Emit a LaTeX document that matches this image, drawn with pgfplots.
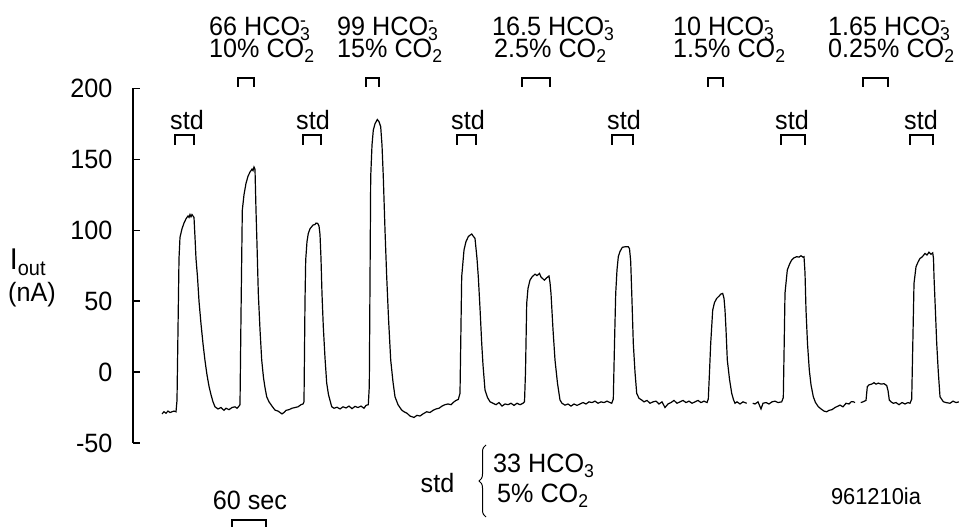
\documentclass[border=0pt]{standalone}
\usepackage{pgfplots}
\pgfplotsset{compat=1.18}
\usepackage{fontspec}
\setmainfont{Liberation Sans}[FakeStretch=0.95]
\usetikzlibrary{decorations.pathreplacing}
\newcommand{\bigf}{\fontsize{26.5}{31}\selectfont}
\newcommand{\hco}{HCO\rlap{\textsuperscript{-}}\textsubscript{3}}
\begin{document}
\begin{tikzpicture}
\useasboundingbox (0pt,0pt) rectangle (959pt,527pt);
\begin{axis}[
  at={(133pt,84pt)}, anchor=south west,
  scale only axis, width=826pt, height=354.7pt,
  xmin=133, xmax=959, ymin=-50, ymax=200,
  axis x line=none, axis y line*=left,
  y axis line style={line width=1.3pt},
  ytick={-50,0,50,100,150,200},
  tick align=inside, major tick length=7pt,
  every tick/.style={black, line width=1.3pt},
  /pgf/number format/assume math mode=true,
  yticklabel style={font=\bigf, xshift=-17pt},
  clip=false,
]
\addplot[black, line width=1.2pt] coordinates {
(162,-29.5)(164,-28)(166,-29)(168,-27.5)(170,-28.5)(172,-28)(174,-27.5)(176,-28)
(177,-20)(178,30)(179,80)(180,95)(182,101)(184,105)(186,108)(188,110)(189,109)(190,111)(191,109.5)(192,111)(193,110)(194,109)
(195,95)(196,80)(197.5,67)(199,50)(201,34)(203,20)(205,8)(207,-2)(209,-10)(211,-16)(213,-21)(215,-24.5)(218,-26)
(221,-25)(224,-27)(226,-25.5)(229,-26.5)(232,-25)(235,-24.5)(237,-25.5)(239,-24)(240,-23)
(241,40)(242.3,114)(244,125)(246,133)(248,138)(250,141)(252,143)(253,142)(254,144.5)(255,143)
(256,114)(257,90)(258.3,55.6)(260,30)(261.7,8.5)(263.5,-4)(265,-11)(266.7,-17.4)(269,-21)(272,-24)(275,-26.8)
(278,-27.5)(280,-28.5)(282,-29.5)(284,-28.5)(286,-27)(289,-26.5)(292,-25.5)(295,-25)(298,-24.5)(301,-23)(303,-22.5)(304,-21)
(305,50)(305.7,79)(307,92)(308.3,97.7)(310,101)(313,103.6)(315,104)(316,105)(317.7,104.8)(319,103)
(320,97)(321,80)(322,55)(323.3,32)(325,10)(326.7,-7.8)(328.5,-16)(331.7,-24.4)
(334,-25.5)(337,-24.8)(340,-26)(343,-24.5)(346,-25.3)(349,-24)(352,-25.8)(355,-24.2)(358,-25)(361,-24)(364,-25.5)(366,-23.5)(368.3,-23)
(369.3,-10)(370.7,137.6)(372,160)(373.3,170.5)(375,175)(377.3,178)(379,176.5)(380.7,172.9)
(382,160)(383.3,137.6)(385,100)(386.7,67.2)(388.5,38)(390.7,8.5)(393,-7)(395,-17.4)(398,-23)(401.7,-26.8)
(404,-28)(407,-29)(410,-31)(412,-31.5)(414,-32)(417,-30.5)(420,-31)(423,-29.5)(426.7,-28)(430,-28.5)(433,-27)(436,-26)
(439,-25.5)(442,-24)(445,-23)(448,-22.5)(451,-23)(454,-21)(456,-20)(458.3,-19.3)
(460,-15)(461.7,67.2)(464,86)(466,92)(468.3,95.4)(470,96.5)(471.7,97.3)(473,96)(475,94.2)
(477,80)(478.3,67.2)(480,45)(481.7,20.4)(483,5)(485,-12.7)(487.5,-18)(490,-20.9)
(493,-22)(496,-23)(499,-21.5)(502,-24)(505,-22.5)(508,-23)(511,-22)(514,-23.5)(517,-22)(520,-23)(523,-22)(524.5,-21)
(525.5,0)(526.7,48.4)(528,59)(530,64.8)(532,67)(535,69)(537,68)(539.5,69.5)(541,67)(544.3,64.8)(546,66)(549,67.7)
(550,63)(551,55.4)(553,30)(555,8.5)(557.5,-8)(560,-19.7)(562,-22)(565,-23.3)
(568,-22.5)(571,-24)(574,-22.5)(577,-23.5)(580,-22.5)(583,-21.5)(586,-22.5)(589,-21)(592,-21.5)(595,-20.5)(598,-22)(601,-21)(604,-21.5)(607,-20.5)(610,-21.5)(611.7,-22)
(613.3,-19)(614.5,20)(615.7,55.4)(617,72)(618.3,81.3)(620,85)(622.3,87.9)(625,88.3)(628.3,88.3)(629.5,87)
(630.7,78)(632,50)(633.3,20.2)(635,0)(636.7,-15)(639,-18.5)(641.7,-19.7)
(644,-21)(647,-20)(650,-22)(653,-21)(656,-20.5)(659,-22.5)(662,-21)(665,-25)(668,-22.5)(671,-21.5)(674,-20)(677,-22)(680,-21)(683,-20)(686,-21.5)(689,-20.5)(692,-22)(695,-21)(698,-20)(701,-21.5)(704,-20.5)(707,-21.5)
(708.3,-19)(709.5,0)(710.7,20.2)(712.7,43.7)(714.5,49)(716.7,51.9)(719,53.5)(721,55)(722.7,55.4)(724,52)
(725,43.7)(726,30)(727.3,8.5)(729.5,-5)(731.7,-15)(733.5,-19.5)(735,-22)(737,-21)(740,-22.5)(743,-21)(746.7,-22)
};
\addplot[black, line width=1.2pt] coordinates {
(752.7,-22)(755,-22.5)(758,-21)(761,-26)(763,-22)(766,-21.5)(769,-22.5)(772,-21)(775,-20.5)(778,-21.5)(781.7,-21)
(783.3,-18)(784.2,20)(785,55.6)(787.3,71.9)(789.5,76)(791.7,79)(794,80.5)(796.7,81.3)(799,81)(801,82)(803,81)(804,81.3)
(805,70)(806,43.7)(807.5,20)(809.3,1.4)(811,-9)(813.3,-17.4)(815.5,-21.5)(818.3,-24.4)(821,-26)(824,-27.5)(826.7,-28)
(829,-27)(832,-26.5)(835,-25)(838,-24)(840,-23.3)(843,-24.5)(846,-22)(849,-22.5)(851,-21)(853.3,-20.9)(855,-21.5)
};
\addplot[black, line width=1.2pt] coordinates {
(860.7,-21.5)(863,-21)(866,-20)(867.3,-10.3)(869,-9)(871.7,-8.5)(874,-7.5)(876,-8.5)(878.3,-7.8)(881,-8.5)(884,-8.2)(886.7,-9.5)
(888,-13)(889.3,-19.7)(891,-21)(893.3,-22)(896,-21.5)(899,-23)(902,-21.5)(905,-22.5)(908,-21.5)(910,-22)
(911.7,-19)(912.8,20)(914,62.5)(916,74.2)(918,77.5)(920,80.1)(922,81)(925,83.6)(927,82.5)(929,84.5)(931,83)(932.7,84)
(933.5,80)(934,67.2)(935.3,45)(936.7,20.4)(938.3,0)(940,-17.4)(943.3,-20.9)(946,-21.5)(950,-22)(953,-20.5)(956,-21.5)(959,-21)
};
\end{axis}
% y label
\node[font=\fontsize{30}{34}\selectfont, anchor=base, inner sep=0pt] at (28pt,257pt) {I\textsubscript{out}};
\node[font=\bigf, anchor=base, inner sep=0pt] at (32pt,225pt) {(nA)};
% top condition labels
\begin{scope}[font=\bigf]
\node[anchor=base west, inner sep=0pt] at (209pt,491pt) {66 \hco};
\node[anchor=base west, inner sep=0pt] at (209pt,469pt) {10\% CO\textsubscript{2}};
\node[anchor=base west, inner sep=0pt] at (337pt,491pt) {99 \hco};
\node[anchor=base west, inner sep=0pt] at (337pt,469pt) {15\% CO\textsubscript{2}};
\node[anchor=base west, inner sep=0pt] at (492pt,491pt) {16.5 \hco};
\node[anchor=base west, inner sep=0pt] at (494pt,469pt) {2.5\% CO\textsubscript{2}};
\node[anchor=base west, inner sep=0pt] at (673pt,491pt) {10 \hco};
\node[anchor=base west, inner sep=0pt] at (673pt,469pt) {1.5\% CO\textsubscript{2}};
\node[anchor=base west, inner sep=0pt] at (828pt,491pt) {1.65 \hco};
\node[anchor=base west, inner sep=0pt] at (828pt,469pt) {0.25\% CO\textsubscript{2}};
% std labels
\foreach \x in {187,313,468,624,792,921}{
  \node[anchor=base, inner sep=0pt] at (\x pt,397pt) {std};
}
% bottom
\node[anchor=base, inner sep=0pt] at (437.5pt,34pt) {std};
\node[anchor=base west, inner sep=0pt] at (493pt,54pt) {33 HCO\textsubscript{3}};
\node[anchor=base west, inner sep=0pt] at (497pt,24pt) {5\% CO\textsubscript{2}};
\node[anchor=base, inner sep=0pt] at (250pt,17pt) {60 sec};
\node[anchor=base, inner sep=0pt, font=\fontsize{23}{28}\selectfont] at (876pt,22pt) {961210ia};
\end{scope}
\draw[black, line width=1pt, decorate, decoration={brace, amplitude=7pt}] (486pt,10pt) -- (486pt,82pt);
% brackets
\begin{scope}[black, line width=1.1pt]
\foreach \a/\b in {238/254,366/379,522/550,708/723,863/888}{
  \draw (\a pt,440pt) -- (\a pt,449pt) -- (\b pt,449pt) -- (\b pt,440pt);
}
\foreach \a/\b in {175/194,303/321,457/476,612/633,781/805,910/933}{
  \draw (\a pt,382pt) -- (\a pt,392pt) -- (\b pt,392pt) -- (\b pt,382pt);
}
\draw (232pt,0pt) -- (232pt,7pt) -- (266pt,7pt) -- (266pt,0pt);
\end{scope}
\end{tikzpicture}
\end{document}
